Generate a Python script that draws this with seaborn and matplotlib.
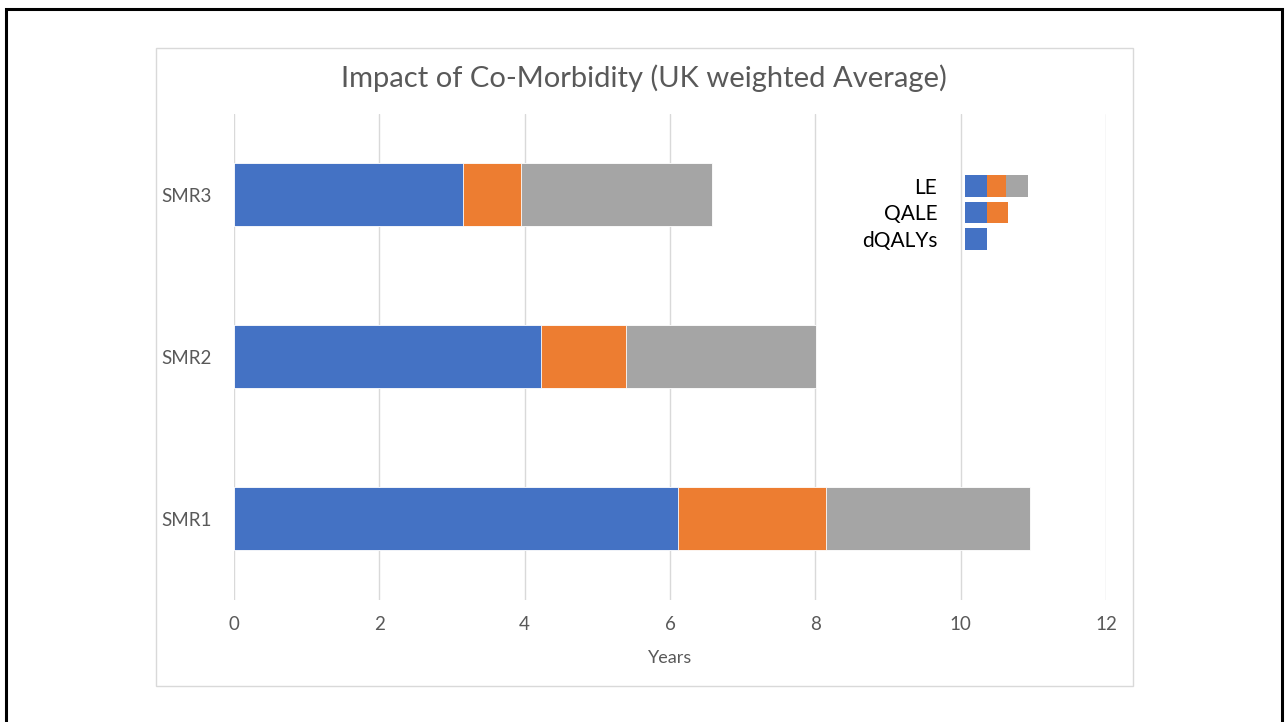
import matplotlib
matplotlib.use("Agg")
import matplotlib.pyplot as plt
import seaborn as sns
import pandas as pd
from matplotlib.patches import Rectangle

# data (cumulative years)
groups = ["SMR3", "SMR2", "SMR1"]
dqalys = [3.15, 4.22, 6.11]
qale = [3.95, 5.39, 8.15]
le = [6.58, 8.01, 10.95]

# little stacked key drawn in the top right corner
key_rows = ["LE", "QALE", "dQALYs"]
key_blue = [1.0, 1.0, 1.0]
key_orange = [1.9, 2.0, 0.0]
key_gray = [2.9, 0.0, 0.0]

blue = "#4472C4"
orange = "#ED7D31"
gray = "#A5A5A5"
txt = "#595959"

sns.set_theme(style="white")
plt.rcParams["font.family"] = ["Lato", "DejaVu Sans"]

df = pd.DataFrame({"group": groups, "dQALYs": dqalys, "QALE": qale, "LE": le})

fig = plt.figure(figsize=(12.87, 7.22), dpi=100)
ax = fig.add_axes([234 / 1287, 1 - 599.5 / 722, 872 / 1287, 486 / 722])

for col, c in [("LE", gray), ("QALE", orange), ("dQALYs", blue)]:
    sns.barplot(data=df, x=col, y="group", color=c, width=0.39, orient="h",
                saturation=1, edgecolor="white", linewidth=0.6, ax=ax, zorder=3)

ax.set_xlim(0, 12)
ax.set_ylim(2.5, -0.5)
ax.set_xticks(range(0, 13, 2))
ax.grid(axis="x", color="#D9D9D9", linewidth=1, zorder=0)
ax.set_axisbelow(True)
for s in ax.spines.values():
    s.set_visible(False)
ax.tick_params(axis="both", length=0, labelsize=13.5, colors=txt)
ax.tick_params(axis="y", pad=16)
ax.tick_params(axis="x", pad=12)
ax.set_ylabel("")
ax.set_xlabel("Years", fontsize=13, color=txt, labelpad=12)

fig.text(0.5, 1 - 78 / 722, "Impact of Co-Morbidity (UK weighted Average)",
         ha="center", va="center", fontsize=21, color=txt)

# key
kdf = pd.DataFrame({"row": key_rows, "blue": key_blue, "orange": key_orange, "gray": key_gray})
kax = fig.add_axes([965 / 1287, 1 - 252 / 722, 63 / 1287, 79 / 722])
for col, c in [("gray", gray), ("orange", orange), ("blue", blue)]:
    sns.barplot(data=kdf, x=col, y="row", color=c, width=0.82, orient="h",
                saturation=1, linewidth=0, ax=kax)
kax.set_xlim(0, 2.9)
kax.set_ylim(2.5, -0.5)
kax.set_xticks([])
kax.set_xlabel("")
kax.set_ylabel("")
kax.patch.set_alpha(0)
for s in kax.spines.values():
    s.set_visible(False)
kax.tick_params(axis="y", length=0, pad=20, labelsize=15, colors="black")

# chart box and slide frame
fig.patches.append(Rectangle((156 / 1287, 1 - 686 / 722), 977 / 1287, 638 / 722,
                             transform=fig.transFigure, fill=False,
                             edgecolor="#D9D9D9", linewidth=1))
fig.patches.append(Rectangle((6 / 1287, -0.05), 1276 / 1287, 1.05 - 9 / 722,
                             transform=fig.transFigure, fill=False,
                             edgecolor="black", linewidth=2.2))

fig.savefig("out.png", dpi=100)
